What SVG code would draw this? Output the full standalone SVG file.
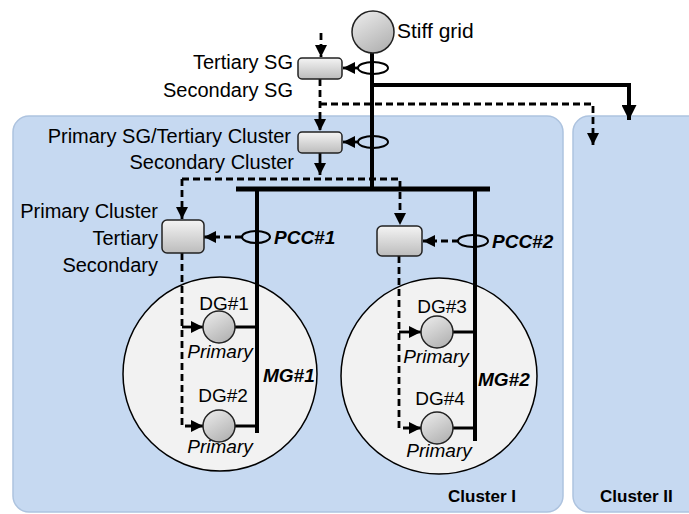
<svg xmlns="http://www.w3.org/2000/svg" width="689" height="514" viewBox="0 0 689 514">
<defs>
<linearGradient id="boxg" x1="0" y1="0" x2="0" y2="1"><stop offset="0" stop-color="#f4f4f4"/><stop offset="1" stop-color="#bcbcbc"/></linearGradient>
<linearGradient id="dgg" x1="0" y1="0" x2="0.6" y2="1"><stop offset="0" stop-color="#eeeeee"/><stop offset="1" stop-color="#b5b5b5"/></linearGradient>
<marker id="ah" viewBox="0 0 10 10" refX="10" refY="5" markerWidth="12" markerHeight="12" markerUnits="userSpaceOnUse" orient="auto"><path d="M0,0 L10,5 L0,10 z" fill="#000"/></marker>
<marker id="ahb" viewBox="0 0 10 10" refX="10" refY="5" markerWidth="15" markerHeight="15" markerUnits="userSpaceOnUse" orient="auto"><path d="M0,0 L10,5 L0,10 z" fill="#000"/></marker>
</defs>
<style>
text{font-family:"Liberation Sans",Arial,sans-serif;fill:#000}
.lbl{font-size:20px}
.dg{font-size:19px;text-anchor:middle}
.pr{font-size:19px;font-style:italic;text-anchor:middle}
.bi{font-size:19px;font-style:italic;font-weight:bold}
.cl{font-size:17px;font-weight:bold}
.end{text-anchor:end}
.panel{fill:#c6d9f1;stroke:#adc3df;stroke-width:1.5}
.mg{fill:#f2f2f2;stroke:#000;stroke-width:1.5}
.box{fill:url(#boxg);stroke:#222;stroke-width:1.5}
.dgc{fill:url(#dgg);stroke:#222;stroke-width:1.5}
.ring{fill:none;stroke:#000;stroke-width:2}
.thick{fill:none;stroke:#000;stroke-width:4}
.dash{fill:none;stroke:#000;stroke-width:2.8;stroke-dasharray:7 4}
.sol{fill:none;stroke:#000;stroke-width:2.8}
</style>
<g id="cluster1"><rect class="panel" x="13" y="116" width="550" height="396" rx="16"/><text class="cl" x="448" y="502">Cluster I</text></g>
<g id="cluster2"><rect class="panel" x="573" y="116" width="140" height="396" rx="16"/><text class="cl" x="600" y="502">Cluster II</text></g>
<g id="mg1"><circle class="mg" cx="220" cy="374" r="97"/><text class="bi" x="263" y="382">MG#1</text></g>
<g id="mg2"><circle class="mg" cx="439" cy="376" r="98"/><text class="bi" x="478" y="386">MG#2</text></g>
<g id="connectors">
<path class="thick" d="M372,53 V189"/>
<path class="thick" d="M372,85 H629 V120" marker-end="url(#ahb)"/>
<path class="thick" d="M236,189 H490" style="stroke-width:5"/>
<path class="thick" d="M257,189 V433"/>
<path class="thick" d="M475,189 V441"/>
<path class="sol" d="M235,327 H257 M235,426 H257 M453,332 H475 M453,428 H475" style="stroke-width:3"/>
<path class="dash" d="M321,33 V57" marker-end="url(#ah)"/>
<path class="dash" d="M320,79 V131" marker-end="url(#ah)"/>
<path class="dash" d="M320,104 H593 V145" marker-end="url(#ah)"/>
<path class="sol" d="M358,68 H343" marker-end="url(#ah)"/>
<path class="sol" d="M358,142 H343" marker-end="url(#ah)"/>
<path class="sol" d="M320,153 V175" marker-end="url(#ah)"/>
<path class="dash" d="M182,179 H400 V225" marker-end="url(#ah)"/>
<path class="dash" d="M182,179 V219" marker-end="url(#ah)"/>
<path class="dash" d="M242,237 H204" marker-end="url(#ah)"/>
<path class="dash" d="M459,241 H423" marker-end="url(#ah)"/>
<path class="dash" d="M182,253 V426 H203" marker-end="url(#ah)"/>
<path class="sol" d="M182,327 H203" marker-end="url(#ah)"/>
<path class="dash" d="M399,256 V428 H421" marker-end="url(#ah)"/>
<path class="sol" d="M399,332 H421" marker-end="url(#ah)"/>
<ellipse class="ring" cx="373" cy="68" rx="15" ry="6"/>
<ellipse class="ring" cx="373" cy="142" rx="15" ry="6"/>
<ellipse class="ring" cx="256" cy="237" rx="14" ry="6"/>
<ellipse class="ring" cx="473" cy="241" rx="15" ry="6"/>
</g>
<g id="stiffgrid"><circle class="dgc" cx="373" cy="32" r="21"/><text class="lbl" x="397" y="38" style="font-size:21px">Stiff grid</text></g>
<g id="sg"><rect class="box" x="298" y="58" width="44" height="21" rx="4"/><text class="lbl end" x="293" y="69">Tertiary SG</text><text class="lbl end" x="293" y="97">Secondary SG</text></g>
<g id="clusterctrl"><rect class="box" x="298" y="132" width="44" height="21" rx="4"/><text class="lbl end" x="291" y="143">Primary SG/Tertiary Cluster</text><text class="lbl end" x="294" y="169">Secondary Cluster</text></g>
<g id="mg1ctrl"><rect class="box" x="162" y="220" width="42" height="33" rx="5"/><text class="lbl end" x="158" y="218">Primary Cluster</text><text class="lbl end" x="158" y="245">Tertiary</text><text class="lbl end" x="158" y="272">Secondary</text><text class="bi" x="274" y="244">PCC#1</text></g>
<g id="mg2ctrl"><rect class="box" x="377" y="226" width="45" height="30" rx="5"/><text class="bi" x="492" y="248">PCC#2</text></g>
<g id="dg1"><circle class="dgc" cx="219" cy="327" r="16"/><text class="dg" x="224" y="310">DG#1</text><text class="pr" x="220" y="358">Primary</text></g>
<g id="dg2"><circle class="dgc" cx="219" cy="426" r="16"/><text class="dg" x="223" y="402">DG#2</text><text class="pr" x="220" y="453">Primary</text></g>
<g id="dg3"><circle class="dgc" cx="437" cy="332" r="16"/><text class="dg" x="442" y="313">DG#3</text><text class="pr" x="436" y="363">Primary</text></g>
<g id="dg4"><circle class="dgc" cx="437" cy="428" r="16"/><text class="dg" x="440" y="405">DG#4</text><text class="pr" x="439" y="457">Primary</text></g>
</svg>
